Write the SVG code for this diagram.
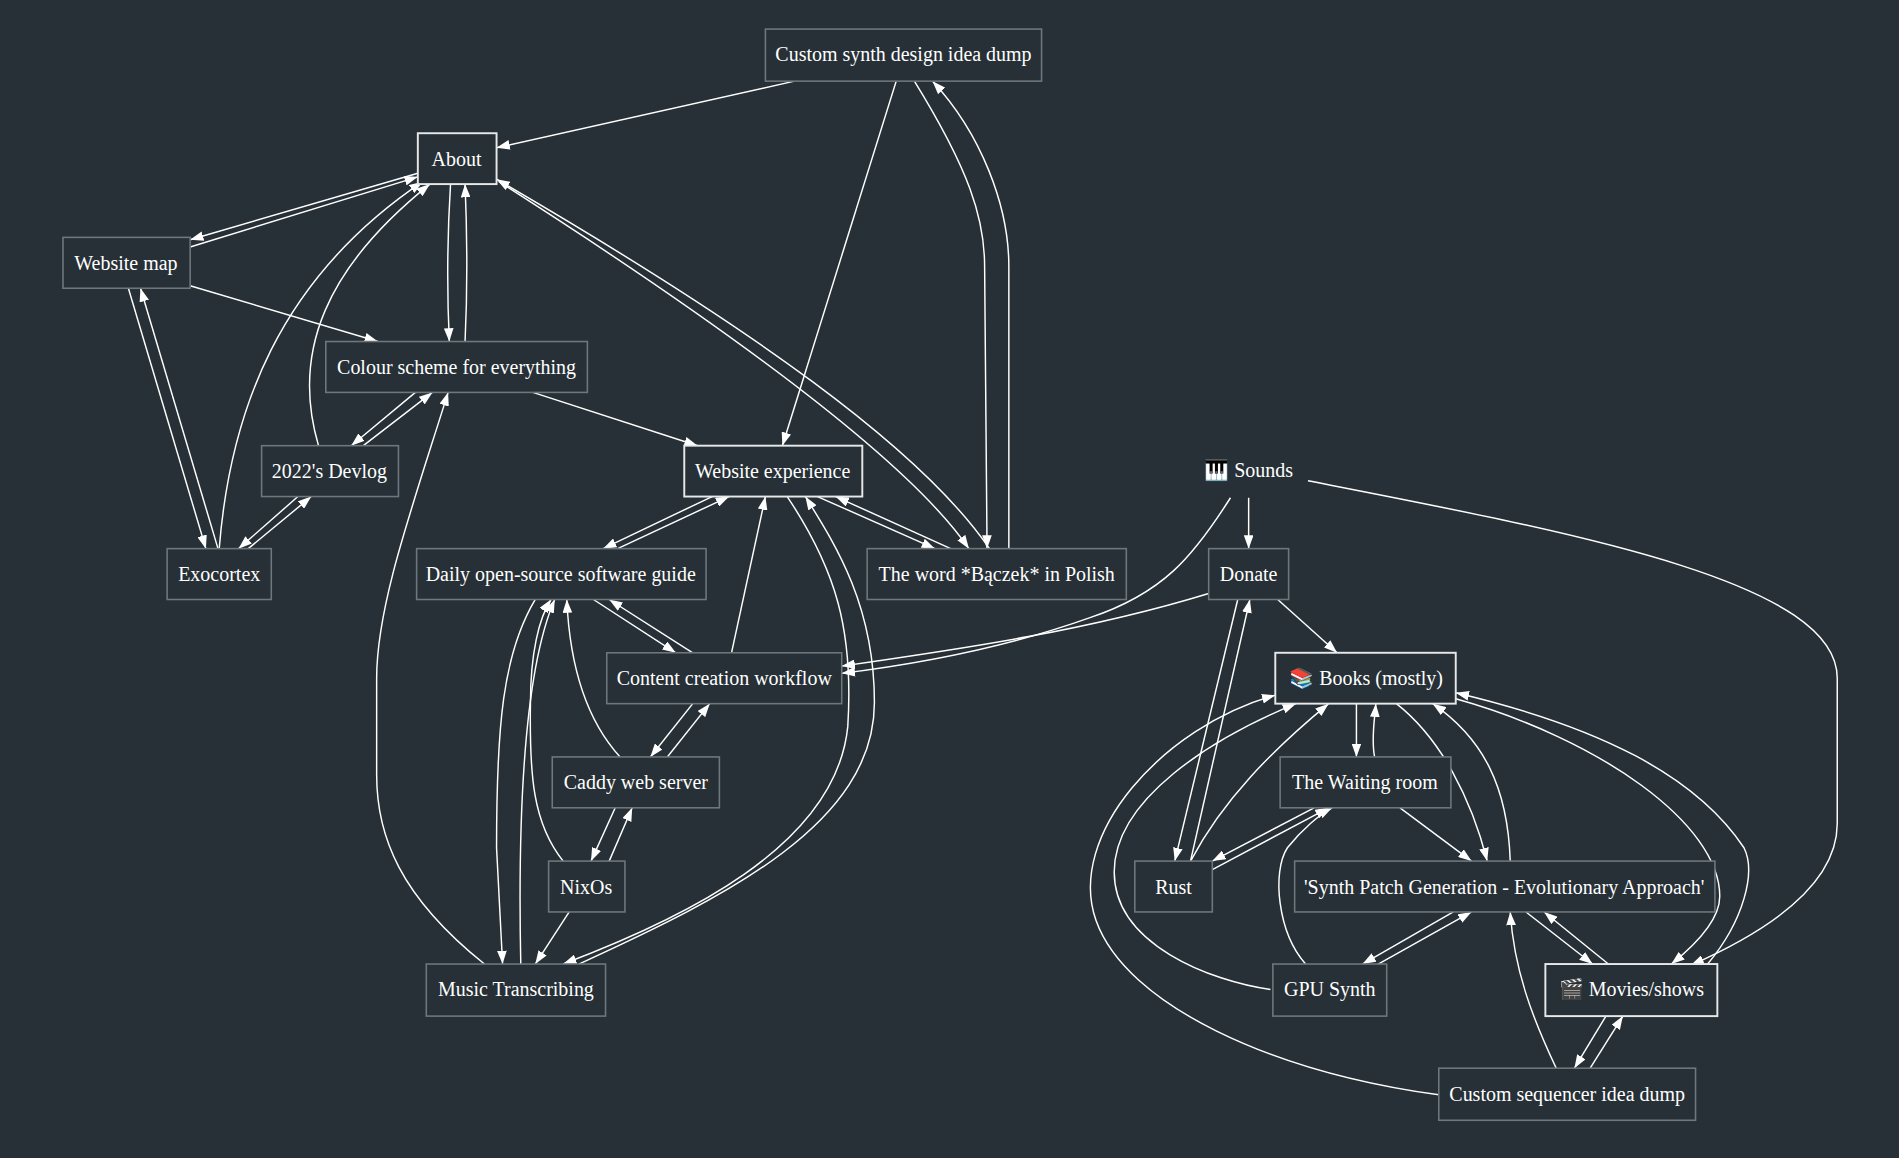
<svg xmlns="http://www.w3.org/2000/svg" width="1899" height="1158" viewBox="0 0 1899 1158">
<style>
.n rect{fill:#263036;stroke:#6e777c;stroke-width:1.3}
.n.w rect{stroke:#e6e8e9;stroke-width:1.6}
text{font-family:"Liberation Serif","Times New Roman",serif;font-size:16.5px;fill:#ffffff;text-anchor:middle;dominant-baseline:central}
#edges path{fill:none;stroke:#ffffff;stroke-width:1.2;marker-end:url(#a)}
</style>
<defs><marker id="a" markerUnits="userSpaceOnUse" markerWidth="12" markerHeight="8" refX="11" refY="4" orient="auto"><path d="M0,0 L11,4 L0,8 Z" fill="#fff"/></marker></defs>
<rect width="1899" height="1158" fill="#263036"/>
<g transform="scale(1.2111)">
<g id="edges">
<path d="M656,67 L410,122"/>
<path d="M740,67 L646,368"/>
<path d="M755,67 C800,140 813,180 813,220 L815,453"/>
<path d="M833,453 L833,220 C833,170 810,110 770,67"/>
<path d="M345,143 L157,198"/>
<path d="M157,204 L345,146"/>
<path d="M372,152 C369,200 369,240 371,282"/>
<path d="M384,282 C386,240 386,200 384,152"/>
<path d="M181,453 C190,340 230,230 349,150"/>
<path d="M263,368 C240,290 270,220 355,152"/>
<path d="M412,150 C600,270 750,380 800,453"/>
<path d="M817,453 C760,370 620,270 410,148"/>
<path d="M157,236 L312,282"/>
<path d="M106,238 L170,453"/>
<path d="M180,453 L116,238"/>
<path d="M343,324 L290,368"/>
<path d="M300,368 L357,324"/>
<path d="M440,324 L576,368"/>
<path d="M246,410 L197,453"/>
<path d="M205,453 L257,410"/>
<path d="M400,796 C330,740 311,690 311,640 L311,560 C311,500 340,420 370,324"/>
<path d="M588,410 L498,453"/>
<path d="M510,453 L602,410"/>
<path d="M675,410 L772,453"/>
<path d="M785,453 L690,410"/>
<path d="M604,539 L632,410"/>
<path d="M650,410 C690,470 705,520 700,600 C690,700 560,760 465,796"/>
<path d="M478,796 C600,740 722,680 722,580 C722,500 690,450 665,410"/>
<path d="M490,495 L558,539"/>
<path d="M572,539 L503,495"/>
<path d="M442,495 C415,540 410,600 410,700 L415,796"/>
<path d="M430,796 C428,700 430,560 458,495"/>
<path d="M512,625 C480,590 470,540 468,495"/>
<path d="M465,711 C440,680 437,640 438,580 C438,540 445,510 455,495"/>
<path d="M572,581 L537,625"/>
<path d="M551,625 L586,581"/>
<path d="M508,667 L488,711"/>
<path d="M503,711 L522,667"/>
<path d="M470,753 L442,796"/>
<path d="M1016,411 C985,460 960,490 900,510 C830,535 760,548 695,556"/>
<path d="M998,490 C900,520 800,535 695,550"/>
<path d="M1031,411 L1031,453"/>
<path d="M1080,397 C1300,440 1517,480 1517,560 L1517,680 C1517,720 1480,760 1396,797"/>
<path d="M1055,495 L1104,539"/>
<path d="M1022,495 L970,711"/>
<path d="M983,711 L1032,495"/>
<path d="M983,711 C1010,660 1050,620 1097,581"/>
<path d="M1049,817 C1000,810 920,780 920,720 C920,660 1000,610 1070,581"/>
<path d="M1188,904 C1050,885 930,830 905,760 C880,690 960,600 1053,574"/>
<path d="M1120,581 L1120,625"/>
<path d="M1135,625 C1132,610 1135,595 1136,581"/>
<path d="M1153,581 C1190,610 1215,660 1228,711"/>
<path d="M1247,711 C1245,650 1225,610 1183,581"/>
<path d="M1202,577 C1320,610 1420,680 1420,740 C1420,760 1400,780 1380,796"/>
<path d="M1410,796 C1440,760 1450,720 1440,700 C1400,640 1320,600 1202,572"/>
<path d="M1085,667 L1001,711"/>
<path d="M1001,718 L1097,667"/>
<path d="M1156,667 L1215,711"/>
<path d="M1078,796 C1055,770 1050,720 1063,700 C1075,685 1090,672 1100,667"/>
<path d="M1200,753 L1125,796"/>
<path d="M1138,796 L1215,753"/>
<path d="M1260,753 L1315,796"/>
<path d="M1328,796 L1275,753"/>
<path d="M1285,882 C1265,840 1250,800 1247,753"/>
<path d="M1326,839 L1300,882"/>
<path d="M1313,882 L1340,839"/>
</g>
<g id="n1" class="n"><rect x="632" y="24" width="228" height="43"/><text x="746" y="45">Custom synth design idea dump</text></g>
<g id="n2" class="n w"><rect x="345" y="110" width="65" height="42"/><text x="377" y="131">About</text></g>
<g id="n3" class="n"><rect x="52" y="196" width="105" height="42"/><text x="104" y="217">Website map</text></g>
<g id="n4" class="n"><rect x="269" y="282" width="216" height="42"/><text x="377" y="303">Colour scheme for everything</text></g>
<g id="n5" class="n"><rect x="216" y="368" width="113" height="42"/><text x="272" y="389">2022's Devlog</text></g>
<g id="n6" class="n w"><rect x="565" y="368" width="147" height="42"/><text x="638" y="389">Website experience</text></g>
<g id="n7" class="n"><rect x="138" y="453" width="86" height="42"/><text x="181" y="474">Exocortex</text></g>
<g id="n8" class="n"><rect x="344" y="453" width="239" height="42"/><text x="463" y="474">Daily open-source software guide</text></g>
<g id="n9" class="n"><rect x="716" y="453" width="214" height="42"/><text x="823" y="474">The word *Bączek* in Polish</text></g>
<g id="n10"><text x="1031" y="388">🎹 Sounds</text></g>
<g id="n11" class="n"><rect x="998" y="453" width="66" height="42"/><text x="1031" y="474">Donate</text></g>
<g id="n12" class="n"><rect x="501" y="539" width="194" height="42"/><text x="598" y="560">Content creation workflow</text></g>
<g id="n13" class="n w"><rect x="1053" y="539" width="149" height="42"/><text x="1128" y="560">📚 Books (mostly)</text></g>
<g id="n14" class="n"><rect x="456" y="625" width="138" height="42"/><text x="525" y="646">Caddy web server</text></g>
<g id="n15" class="n"><rect x="1057" y="625" width="141" height="42"/><text x="1127" y="646">The Waiting room</text></g>
<g id="n16" class="n"><rect x="453" y="711" width="63" height="42"/><text x="484" y="732">NixOs</text></g>
<g id="n17" class="n"><rect x="937" y="711" width="64" height="42"/><text x="969" y="732">Rust</text></g>
<g id="n18" class="n"><rect x="1069" y="711" width="347" height="42"/><text x="1242" y="732">'Synth Patch Generation - Evolutionary Approach'</text></g>
<g id="n19" class="n"><rect x="352" y="796" width="148" height="43"/><text x="426" y="817">Music Transcribing</text></g>
<g id="n20" class="n"><rect x="1051" y="796" width="94" height="43"/><text x="1098" y="817">GPU Synth</text></g>
<g id="n21" class="n w"><rect x="1276" y="796" width="142" height="43"/><text x="1347" y="817">🎬 Movies/shows</text></g>
<g id="n22" class="n"><rect x="1188" y="882" width="212" height="43"/><text x="1294" y="903">Custom sequencer idea dump</text></g>
</g>
</svg>
